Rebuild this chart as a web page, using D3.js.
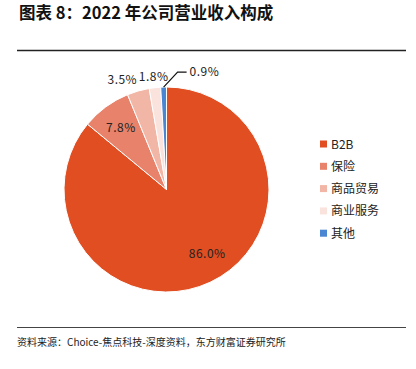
<!DOCTYPE html>
<html>
<head>
<meta charset="utf-8">
<script src="https://cdn.jsdelivr.net/npm/d3@7"></script>
<style>
  body { margin: 0; background: #fff; }
  text { font-family: "Noto Sans CJK SC", "Noto Sans", sans-serif; }
</style>
</head>
<body>
<div id="chart"></div>
<script>
// chart data
const categories = ['B2B', '保险', '商品贸易', '商业服务', '其他'];
const shares = [86.0, 7.8, 3.5, 1.8, 0.9];
const colors = ['#E04E22', '#E8826A', '#F2B6A6', '#FBE3DD', '#4A86D1'];

const width = 416, height = 369;
const cx = 166.5, cy = 189.5, radius = 102.5;

const svg = d3.select('#chart')
  .append('svg')
  .attr('width', width)
  .attr('height', height);

// title + rules
svg.append('text')
  .attr('x', 19)
  .attr('y', 19)
  .attr('font-size', 16.5)
  .attr('font-weight', 'bold')
  .attr('fill', '#111')
  .text('图表 8：2022 年公司营业收入构成');

svg.append('line')
  .attr('x1', 17).attr('x2', 406)
  .attr('y1', 50.5).attr('y2', 50.5)
  .attr('stroke', '#222').attr('stroke-width', 1.5);

svg.append('line')
  .attr('x1', 17).attr('x2', 406)
  .attr('y1', 327.5).attr('y2', 327.5)
  .attr('stroke', '#444').attr('stroke-width', 1.2);

svg.append('text')
  .attr('x', 17)
  .attr('y', 346)
  .attr('font-size', 10)
  .attr('fill', '#222')
  .text('资料来源：Choice-焦点科技-深度资料，东方财富证券研究所');

// pie
const data = categories.map((c, i) => ({ name: c, value: shares[i], color: colors[i] }));

const pie = d3.pie().value(d => d.value).sort(null);
const arcs = pie(data);

const arc = d3.arc().innerRadius(0).outerRadius(radius);
const innerLabelArc = d3.arc().innerRadius(radius * 0.75).outerRadius(radius * 0.75);
const outerLabelArc = d3.arc().innerRadius(radius + 11).outerRadius(radius + 11);
const edgeArc = d3.arc().innerRadius(radius).outerRadius(radius);

const g = svg.append('g').attr('transform', `translate(${cx},${cy})`);

g.selectAll('path')
  .data(arcs)
  .enter().append('path')
  .attr('d', arc)
  .attr('fill', d => d.data.color)
  .attr('stroke', '#fff')
  .attr('stroke-width', 1);

// labels
arcs.forEach((d, i) => {
  const label = d.data.value.toFixed(1) + '%';
  if (d.data.value > 5) {
    const [x, y] = innerLabelArc.centroid(d);
    g.append('text')
      .attr('x', x + (i === 0 ? 8 : 0)).attr('y', y + (i === 0 ? -1 : 4))
      .attr('text-anchor', 'middle')
      .attr('font-size', 12)
      .attr('letter-spacing', 0.5)
      .attr('fill', '#222')
      .text(label);
  } else if (i === arcs.length - 1) {
    // smallest slice gets a leader line
    const [sx, sy] = edgeArc.centroid(d);
    const ex = sx + 14, ey = sy - 15;
    g.append('polyline')
      .attr('points', `${sx},${sy} ${ex},${ey} ${ex + 9},${ey}`)
      .attr('fill', 'none')
      .attr('stroke', '#111')
      .attr('stroke-width', 1.2);
    g.append('text')
      .attr('x', ex + 12).attr('y', ey + 4)
      .attr('font-size', 12)
      .attr('letter-spacing', 0.5)
      .attr('fill', '#222')
      .text(label);
  } else {
    const [x, y] = outerLabelArc.centroid(d);
    g.append('text')
      .attr('x', x < -20 ? x + 2 : x)
      .attr('y', y + 4)
      .attr('text-anchor', x < -20 ? 'end' : 'middle')
      .attr('font-size', 12)
      .attr('letter-spacing', 0.5)
      .attr('fill', '#222')
      .text(label);
  }
});

// legend
const legend = svg.append('g').attr('transform', 'translate(320,144)');
const item = legend.selectAll('g')
  .data(data)
  .enter().append('g')
  .attr('transform', (d, i) => `translate(0,${i * 22.3})`);

item.append('rect')
  .attr('x', 0).attr('y', -3.5)
  .attr('width', 7).attr('height', 7)
  .attr('fill', d => d.color);

item.append('text')
  .attr('x', 11).attr('y', 4.5)
  .attr('font-size', 12)
  .attr('fill', '#222')
  .text(d => d.name);
</script>
</body>
</html>
